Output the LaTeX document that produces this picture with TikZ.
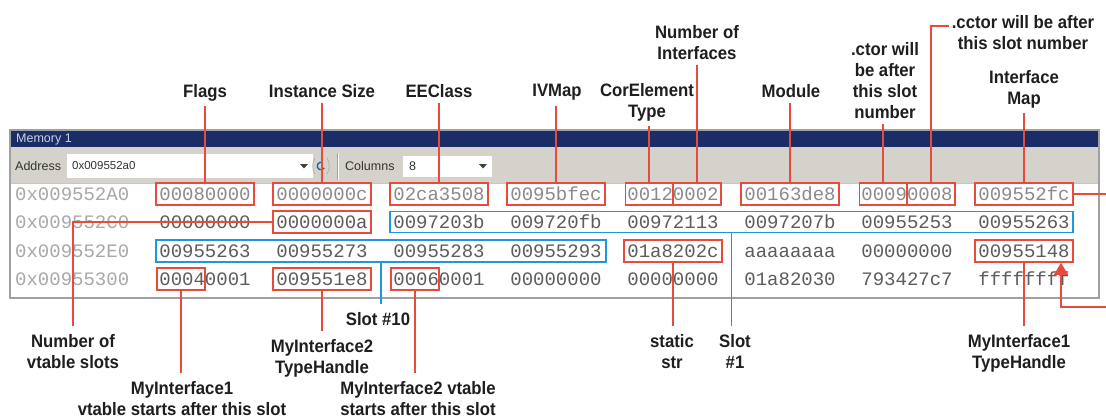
\documentclass[tikz,border=0pt]{standalone}
\usepackage{fontspec}
\usetikzlibrary{arrows.meta,calc}
\newfontfamily\labfont{Liberation Sans}[FakeStretch=0.93]
\newfontfamily\monofont{Liberation Mono}
\newfontfamily\uifont{Liberation Sans}
\definecolor{rd}{HTML}{E84A3C}
\definecolor{bl}{HTML}{1E96E0}
\definecolor{navy}{HTML}{1B2D66}
\definecolor{tbar}{HTML}{D5D2CB}
\definecolor{addr}{HTML}{A8A8A8}
\definecolor{datone}{HTML}{8A8A8A}
\definecolor{dat}{HTML}{5C5C5C}
\definecolor{labc}{HTML}{1E1E1E}
\definecolor{frame}{HTML}{A0A0A0}
\begin{document}
\begin{tikzpicture}[x=1pt,y=-1pt,
  lab/.style={font=\labfont\bfseries\fontsize{18}{21}\selectfont, text=labc, align=center, inner sep=1pt, anchor=north},
  cell/.style={font=\monofont\fontsize{19}{19}\selectfont, text=dat, inner sep=0pt, text height=12.5pt, text depth=0pt},
  adr/.style={cell, text=addr, anchor=west},
  rbox/.style={draw=rd, line width=1.6pt, minimum height=22pt, inner sep=0pt},
  bbox/.style={draw=bl, line width=1.7pt, inner sep=0pt},
  rl/.style={draw=rd, line width=1.5pt},
  bln/.style={draw=bl, line width=1.8pt},
  ui/.style={font=\uifont\fontsize{12.5}{14}\selectfont, inner sep=0pt, anchor=west}
]
\useasboundingbox (0,0) rectangle (1106,418);
\fill[white] (0,0) rectangle (1106,418);

% window
\fill[white] (10,130) rectangle (1099,298);
\fill[navy] (10,130) rectangle (1099,147);
\fill[tbar] (10,147) rectangle (1099,183);
\draw[frame!60, line width=0.8pt] (10,183) -- (1099,183);
\node[ui, text=white!78!navy] (title) at (16,139) {Memory 1};
\node[ui, text=black!80] (addrlab) at (15,166) {Address};
\fill[white] (67,154) rectangle (313,178);
\node[ui, text=black!80, font=\uifont\fontsize{11.5}{13}\selectfont] (addrval) at (72,166) {0x009552a0};
\fill[black!75] (300,164) -- (308,164) -- (304,168.5) -- cycle;
% refresh icon
\draw[black!30, line width=0.8pt] (315,158) .. controls (312,162) and (312,170) .. (315,174);
\draw[black!30, line width=0.8pt] (327,158) .. controls (330,162) and (330,170) .. (327,174);
\draw[bl!70!black, line width=1.3pt] (321,166) ++(30:3.8) arc (30:300:3.8);
\draw[frame, line width=0.8pt] (337,153) -- (337,180);
\draw[white, line width=0.8pt] (338.2,153) -- (338.2,180);
\node[ui, text=black!80] (collab) at (345,166) {Columns};
\fill[white] (403,156) rectangle (492,177);
\node[ui, text=black!80] (colval) at (409,166) {8};
\fill[black!75] (479,164) -- (487,164) -- (483,168.5) -- cycle;

% addresses
\node[adr] (a1) at (15,194) {0x009552A0};
\node[adr] (a2) at (15,222) {0x009552C0};
\node[adr] (a3) at (15,251) {0x009552E0};
\node[adr] (a4) at (15,279) {0x00955300};

% data
\foreach \v [count=\i] in {00080000,0000000c,02ca3508,0095bfec,00120002,00163de8,00090008,009552fc}
  \node[cell,text=datone] (c1-\i) at ({88+117*\i},194) {\v};
\foreach \v [count=\i] in {00000000,0000000a,0097203b,009720fb,00972113,0097207b,00955253,00955263}
  \node[cell] (c2-\i) at ({88+117*\i},222) {\v};
\foreach \v [count=\i] in {00955263,00955273,00955283,00955293,01a8202c,aaaaaaaa,00000000,00955148}
  \node[cell] (c3-\i) at ({88+117*\i},251) {\v};
\foreach \v [count=\i] in {00040001,009551e8,00060001,00000000,00000000,01a82030,793427c7,ffffffff}
  \node[cell] (c4-\i) at ({88+117*\i},279) {\v};

% red boxes
\node[rbox, minimum width=98pt] (b1-1) at (205,194) {};
\node[rbox, minimum width=98pt] (b1-2) at (322,194) {};
\node[rbox, minimum width=98pt] (b1-3) at (439,194) {};
\node[rbox, minimum width=98pt] (b1-4) at (556,194) {};
\node[rbox, minimum width=47pt] (b1-5a) at (649,194) {};
\node[rbox, minimum width=48pt] (b1-5b) at (697,194) {};
\node[rbox, minimum width=98pt] (b1-6) at (790,194) {};
\node[rbox, minimum width=47pt] (b1-7a) at (883,194) {};
\node[rbox, minimum width=48pt] (b1-7b) at (931,194) {};
\node[rbox, minimum width=98pt] (b1-8) at (1024,194) {};
\node[rbox, minimum width=98pt] (b2-2) at (322,222) {};
\node[rbox, minimum width=98pt] (b3-5) at (673,251) {};
\node[rbox, minimum width=98pt] (b3-8) at (1024,251) {};
\node[rbox, minimum width=48pt] (b4-1) at (181,279) {};
\node[rbox, minimum width=98pt] (b4-2) at (322,279) {};
\node[rbox, minimum width=48pt] (b4-3) at (415,279) {};

% blue boxes
\node[bbox, minimum width=683pt, minimum height=21pt] (bl1) at (731.5,222) {};
\node[bbox, minimum width=450pt, minimum height=22pt] (bl2) at (381,251) {};

% window frame
\draw[frame, line width=1.5pt] (10,130) rectangle (1099,298);

% top labels
\node[lab] (lflags) at (205,83) {Flags};
\node[lab] (linst) at (322,83) {Instance Size};
\node[lab] (leec) at (439,83) {EEClass};
\node[lab] (livm) at (557,83) {IVMap};
\node[lab] (lcor) at (647,82) {CorElement\\Type};
\node[lab] (lnif) at (697,24) {Number of\\Interfaces};
\node[lab] (lmod) at (791,83) {Module};
\node[lab] (lctor) at (885,41) {.ctor will\\be after\\this slot\\number};
\node[lab] (lcctor) at (1023,14) {.cctor will be after\\this slot number};
\node[lab] (limap) at (1024,69) {Interface\\Map};

% bottom labels
\node[lab] (lnvs) at (73,333) {Number of\\vtable slots};
\node[lab] (lmiov) at (182,380) {MyInterface1\\vtable starts after this slot};
\node[lab] (lmitt) at (322,338) {MyInterface2\\TypeHandle};
\node[lab] (lsten) at (378,311) {Slot \#10};
\node[lab] (lmitv) at (418,380) {MyInterface2 vtable\\starts after this slot};
\node[lab] (lstat) at (672,333) {static\\str};
\node[lab] (lsone) at (735,333) {Slot\\\#1};
\node[lab] (lmiot) at (1019,333) {MyInterface1\\TypeHandle};

% top connectors
\draw[rl] (b1-1.north) -- ($(b1-1.north |- lflags.south)+(0,4)$);
\draw[rl] (b1-2.north) -- ($(b1-2.north |- linst.south)+(0,4)$);
\draw[rl] (b1-3.north) -- ($(b1-3.north |- leec.south)+(0,4)$);
\draw[rl] (b1-4.north) -- ($(b1-4.north |- livm.south)+(0,4)$);
\draw[rl] (b1-5a.north) -- ($(b1-5a.north |- lcor.south)+(0,4)$);
\draw[rl] (b1-5b.north) -- ($(b1-5b.north |- lnif.south)+(0,4)$);
\draw[rl] (b1-6.north) -- ($(b1-6.north |- lmod.south)+(0,4)$);
\draw[rl] (b1-7a.north) -- ($(b1-7a.north |- lctor.south)+(0,4)$);
\draw[rl] ($(lcctor.north west)+(-2,12)$) -| (b1-7b.north);
\draw[rl] (b1-8.north) -- ($(b1-8.north |- limap.south)+(0,4)$);

% bottom connectors
\draw[rl] (b2-2.west) -| ($(lnvs.north)+(0,-7)$);
\draw[rl] (b4-1.south) -- ($(b4-1.south |- lmiov.north)+(0,-7)$);
\draw[rl] (b4-2.south) -- ($(b4-2.south |- lmitt.north)+(0,-7)$);
\draw[bln] (bl2.south) -- ($(bl2.south |- lsten.north)+(0,-7)$);
\draw[rl] (b4-3.south) -- ($(b4-3.south |- lmitv.north)+(0,-7)$);
\draw[rl] (b3-5.south) -- ($(b3-5.south |- lstat.north)+(0,-7)$);
\draw[bln] (bl1.south) -- ($(bl1.south |- lsone.north)+(0,-7)$);
\draw[rl] (b3-8.south) -- ($(b3-8.south |- lmiot.north)+(0,-7)$);

% interface map pointer (runs off the right edge)
\coordinate (edge) at (1120,307);
\draw[rl, -{Triangle[width=14pt,length=12pt]}] (b1-8.east) -- (b1-8.east -| edge) -- (edge) -| ($(b3-8.south)+(37,0)$);
\end{tikzpicture}
\end{document}
